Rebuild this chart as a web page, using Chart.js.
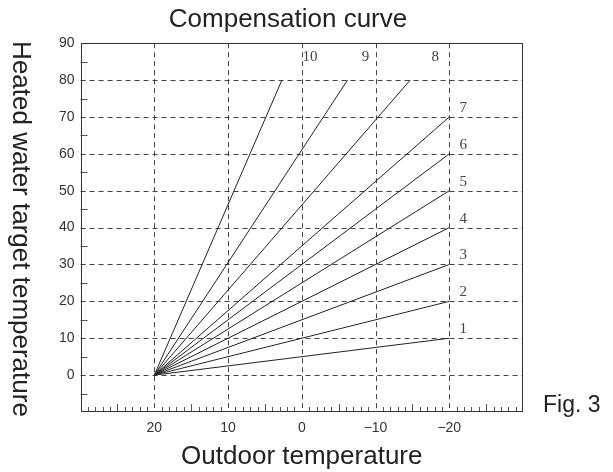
<!DOCTYPE html>
<html>
<head>
<meta charset="utf-8">
<script src="https://cdn.jsdelivr.net/npm/chart.js@4"></script>
<style>
  html, body { margin: 0; padding: 0; background: #fff; }
  #wrap { width: 613px; height: 472px; }
</style>
</head>
<body>
<div id="wrap"><canvas id="myChart"></canvas></div>
<script>
/* compensation curves: all start at outdoor 20, water 0 */
const curveNames = ['1', '2', '3', '4', '5', '6', '7', '8', '9', '10'];
const startOutdoor = 20;
const startWater = 0;
const endOutdoor = [-20, -20, -20, -20, -20, -20, -20, -14.7, -6.2, 2.7];
const endWater = [10, 20, 30, 40, 50, 60, 70, 80, 80, 80];
const xTickValues = [20, 10, 0, -10, -20];
const yTickValues = [0, 10, 20, 30, 40, 50, 60, 70, 80, 90];

const INK = '#222';
const SANS = "'Liberation Sans', Arial, sans-serif";

const datasets = curveNames.map(function (name, i) {
  return {
    label: name,
    data: [
      { x: startOutdoor, y: startWater },
      { x: endOutdoor[i], y: endWater[i] }
    ],
    borderColor: INK,
    borderWidth: 1,
    pointRadius: 0,
    fill: false
  };
});

/* dashed grid, small ticks and the frame */
const framePlugin = {
  id: 'frame',
  beforeDatasetsDraw: function (chart) {
    const ctx = chart.ctx;
    const a = chart.chartArea;
    const x = chart.scales.x;
    const y = chart.scales.y;

    function line(x1, y1, x2, y2) {
      ctx.beginPath();
      ctx.moveTo(x1, y1);
      ctx.lineTo(x2, y2);
      ctx.stroke();
    }

    ctx.save();
    ctx.lineWidth = 1;
    ctx.strokeStyle = '#444';
    ctx.setLineDash([5, 4]);
    xTickValues.forEach(function (v) {
      const px = Math.round(x.getPixelForValue(v)) + 0.5;
      line(px, a.top, px, a.bottom);
    });
    yTickValues.forEach(function (v) {
      if (v >= y.max) return;
      const py = Math.round(y.getPixelForValue(v)) + 0.5;
      line(a.left, py, a.right, py);
    });

    ctx.setLineDash([]);
    ctx.strokeStyle = '#555';
    // bottom: every degree, longer at fives
    for (let v = x.min + 1; v < x.max; v++) {
      if (v % 10 === 0) continue;
      const px = Math.round(x.getPixelForValue(v)) + 0.5;
      const len = v % 5 === 0 ? 8 : 5;
      line(px, a.bottom, px, a.bottom - len);
    }
    // left: the fives between grid lines
    for (let v = y.min + 5; v < y.max; v += 10) {
      const py = Math.round(y.getPixelForValue(v)) + 0.5;
      line(a.left, py, a.left + 7, py);
    }

    ctx.strokeStyle = '#333';
    ctx.strokeRect(Math.round(a.left) + 0.5, Math.round(a.top) + 0.5,
      Math.round(a.width) - 1, Math.round(a.height) - 1);
    ctx.restore();
  }
};

/* curve numbers next to the end points */
const curveLabelPlugin = {
  id: 'curveLabels',
  afterDatasetsDraw: function (chart) {
    const ctx = chart.ctx;
    const topShift = [0, 0, 0, 0, 0, 0, 0, 25, 18, 28];
    ctx.save();
    ctx.font = "15px 'Liberation Serif', 'Times New Roman', serif";
    ctx.fillStyle = '#444';
    ctx.textAlign = 'center';
    ctx.textBaseline = 'middle';
    chart.data.datasets.forEach(function (ds, i) {
      const end = chart.getDatasetMeta(i).data[1];
      if (i < 7) {
        ctx.fillText(ds.label, end.x + 14, end.y - 9);
      } else {
        ctx.fillText(ds.label, end.x + topShift[i], end.y - 23);
      }
    });
    ctx.restore();
  }
};

/* y title reads top to bottom, plus the figure caption */
const sideTextPlugin = {
  id: 'sideText',
  afterDraw: function (chart) {
    const ctx = chart.ctx;
    const a = chart.chartArea;
    ctx.save();
    ctx.fillStyle = INK;
    ctx.font = '26px ' + SANS;
    ctx.textAlign = 'center';
    ctx.textBaseline = 'middle';
    ctx.translate(20, 229);
    ctx.rotate(Math.PI / 2);
    ctx.fillText('Heated water target temperature', 0, 0);
    ctx.restore();

    ctx.save();
    ctx.fillStyle = INK;
    ctx.font = '23px ' + SANS;
    ctx.textAlign = 'left';
    ctx.textBaseline = 'alphabetic';
    ctx.fillText('Fig. 3', a.right + 20, a.bottom);
    ctx.restore();
  }
};

const ctx = document.getElementById('myChart').getContext('2d');

const chart = new Chart(ctx, {
  type: 'line',
  data: { datasets: datasets },
  options: {
    responsive: true,
    maintainAspectRatio: false,
    animation: false,
    events: [],
    layout: { padding: { left: 53, right: 90, top: 0, bottom: 0 } },
    plugins: {
      legend: { display: false },
      tooltip: { enabled: false },
      title: {
        display: true,
        text: 'Compensation curve',
        color: INK,
        font: { family: SANS, size: 26, weight: 'normal' },
        padding: { top: 4, bottom: 8 }
      }
    },
    scales: {
      x: {
        type: 'linear',
        min: -30,
        max: 30,
        reverse: true,
        grid: { display: false, drawTicks: false },
        border: { display: false },
        ticks: {
          stepSize: 10,
          autoSkip: false,
          maxRotation: 0,
          padding: 8,
          color: '#333',
          font: { family: SANS, size: 14 },
          callback: function (v) {
            return xTickValues.includes(v) ? String(v).replace('-', '\u2212') : '';
          }
        },
        title: {
          display: true,
          text: 'Outdoor temperature',
          color: INK,
          font: { family: SANS, size: 26 },
          padding: { top: -4, bottom: 0 }
        }
      },
      y: {
        type: 'linear',
        min: -10,
        max: 90,
        grid: { display: false, drawTicks: false },
        border: { display: false },
        ticks: {
          stepSize: 10,
          autoSkip: false,
          padding: 6,
          color: '#333',
          font: { family: SANS, size: 14 },
          callback: function (v) {
            return yTickValues.includes(v) ? String(v) : '';
          }
        }
      }
    }
  },
  plugins: [framePlugin, curveLabelPlugin, sideTextPlugin]
});
</script>
</body>
</html>
